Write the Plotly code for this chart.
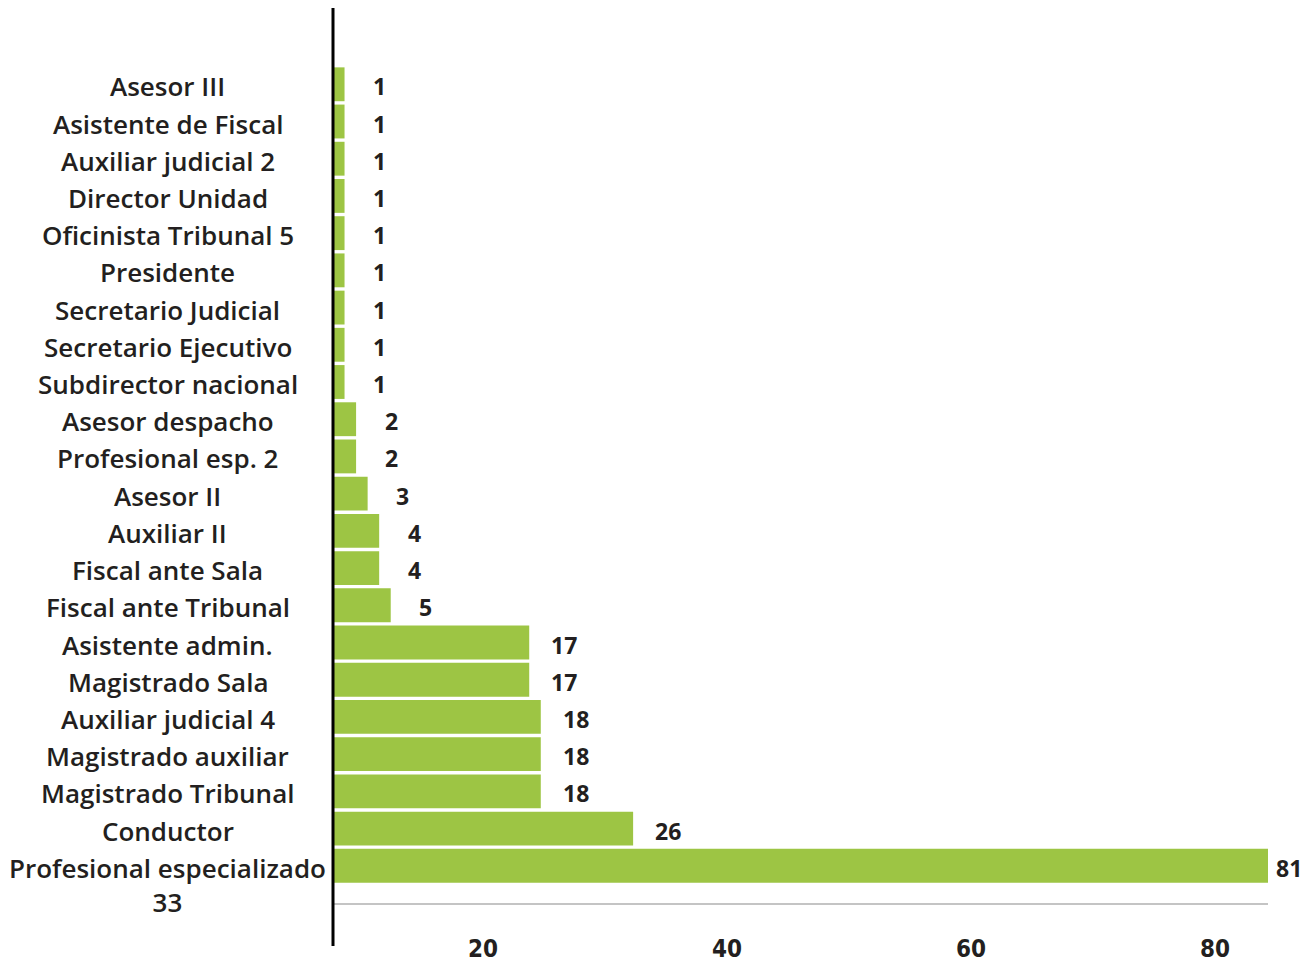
import plotly.graph_objects as go

categories = [
    "Asesor III", "Asistente de Fiscal", "Auxiliar judicial 2", "Director Unidad",
    "Oficinista Tribunal 5", "Presidente", "Secretario Judicial", "Secretario Ejecutivo",
    "Subdirector nacional", "Asesor despacho", "Profesional esp. 2", "Asesor II",
    "Auxiliar II", "Fiscal ante Sala", "Fiscal ante Tribunal", "Asistente admin.",
    "Magistrado Sala", "Auxiliar judicial 4", "Magistrado auxiliar", "Magistrado Tribunal",
    "Conductor", "Profesional especializado<br>33",
]
values = [1, 1, 1, 1, 1, 1, 1, 1, 1, 2, 2, 3, 4, 4, 5, 17, 17, 18, 18, 18, 26, 81]
tick_labels = [20, 40, 60, 80]

BAR = "#9DC544"
TXT = "#231F20"
FONT = "Open Sans"

n = len(categories)
fig = go.Figure()
fig.add_trace(go.Bar(
    x=values, y=categories, orientation="h",
    marker=dict(color=BAR, line=dict(width=0)),
    hoverinfo="skip", showlegend=False,
))
# invisible helper trace so the secondary (tick) axis is drawn
fig.add_trace(go.Scatter(
    x=tick_labels, y=[categories[0]] * len(tick_labels), xaxis="x2",
    mode="markers", marker=dict(opacity=0), hoverinfo="skip", showlegend=False,
))

annotations = []
for c in categories:
    annotations.append(dict(
        x=-0.1765, xref="paper", y=c, yref="y", text=c, showarrow=False,
        xanchor="center", yanchor="top", yshift=18, align="center",
        font=dict(family=FONT, size=26, color=TXT, weight=600),
    ))
vmax = max(values)
for c, v in zip(categories, values):
    big = v == vmax
    annotations.append(dict(
        x=v, xref="x", y=c, yref="y", text=str(v), showarrow=False,
        xanchor="left" if big else "center", xshift=6 if big else 35, yshift=-2,
        font=dict(family=FONT, size=23, color=TXT, weight=700),
    ))

fig.update_layout(
    width=1303, height=955,
    margin=dict(l=325, r=43, t=0, b=58),
    paper_bgcolor="white", plot_bgcolor="white",
    bargap=0.09,
    xaxis=dict(range=[0, vmax], showgrid=False, zeroline=False, showticklabels=False,
               showline=True, linecolor="#C4C4C4", linewidth=2, ticks=""),
    xaxis2=dict(overlaying="x", anchor="y", side="bottom", range=[7.7, 84.34],
                tickvals=tick_labels, showgrid=False, zeroline=False, showline=False,
                ticks="outside", ticklen=24, tickcolor="rgba(0,0,0,0)",
                tickfont=dict(family="DejaVu Sans Condensed, Liberation Sans Narrow, sans-serif",
                              size=24, color=TXT, weight="bold")),
    yaxis=dict(type="category", categoryorder="array", categoryarray=categories,
               range=[n - 0.5 + 0.5, -0.5 - 1.55], showticklabels=False,
               showgrid=False, zeroline=False, showline=False, ticks=""),
    annotations=annotations,
    shapes=[dict(type="line", xref="paper", yref="paper", x0=0, x1=0, y0=-0.048, y1=1.0,
                 line=dict(color="black", width=3), layer="above")],
)

fig.write_html("out.html")
